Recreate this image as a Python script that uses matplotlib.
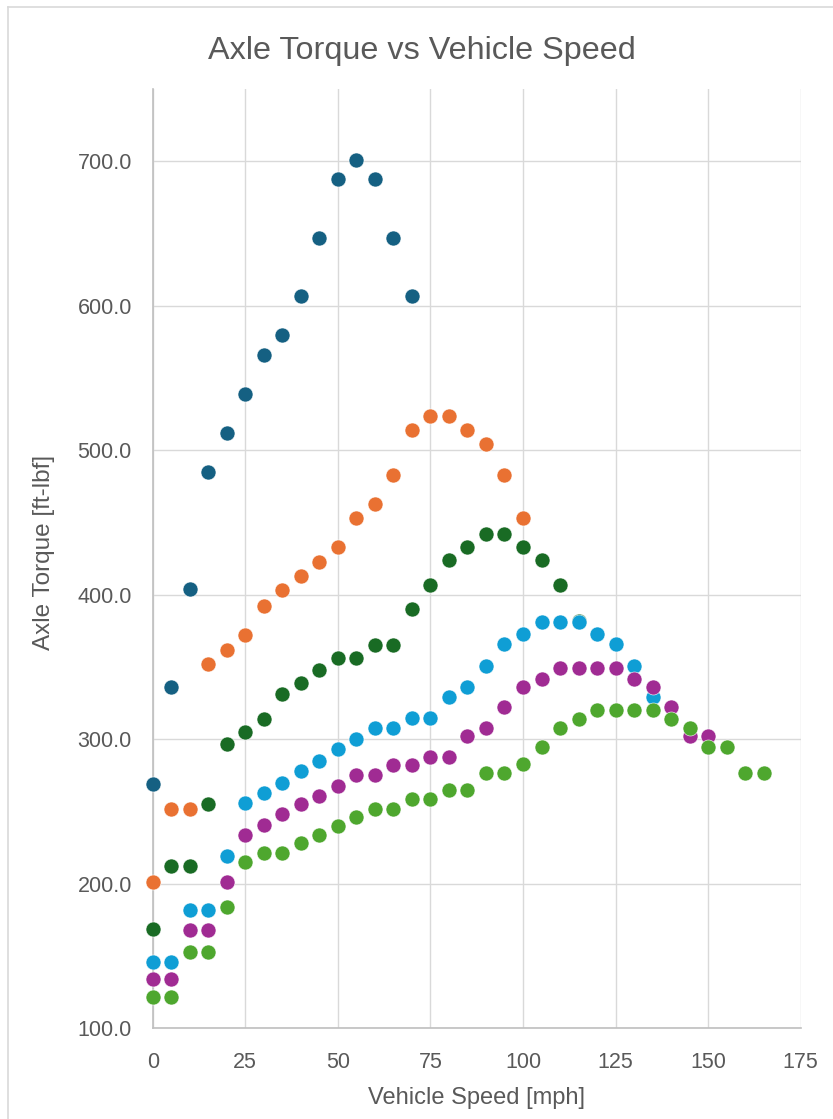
import matplotlib
matplotlib.use("Agg")
import matplotlib.pyplot as plt
from matplotlib.lines import Line2D

# ---- data ----
speed = [0, 5, 10, 15, 20, 25, 30, 35, 40, 45, 50, 55, 60, 65, 70, 75, 80, 85,
         90, 95, 100, 105, 110, 115, 120, 125, 130, 135, 140, 145, 150, 155, 160, 165]

torque_1 = [269, 336, 404, 485, 512, 539, 566, 580, 607, 647, 688, 701, 688, 647, 607]
torque_2 = [201, 252, 252, 352, 362, 372, 392, 403, 413, 423, 433, 453, 463, 483, 514,
            524, 524, 514, 504, 483, 453]
torque_3 = [169, 212, 212, 255, 297, 305, 314, 331, 339, 348, 356, 356, 365, 365, 390,
            407, 424, 433, 442, 442, 433, 424, 407, 382]
torque_4 = [146, 146, 182, 182, 219, 256, 263, 270, 278, 285, 293, 300, 308, 308, 315,
            315, 329, 336, 351, 366, 373, 381, 381, 381, 373, 366, 351, 329]
torque_5 = [134, 134, 168, 168, 201, 234, 241, 248, 255, 261, 268, 275, 275, 282, 282,
            288, 288, 302, 308, 322, 336, 342, 349, 349, 349, 349, 342, 336, 322, 302, 302]
torque_6 = [122, 122, 153, 153, 184, 215, 221, 221, 228, 234, 240, 246, 252, 252, 259,
            259, 265, 265, 277, 277, 283, 295, 308, 314, 320, 320, 320, 320, 314, 308,
            295, 295, 277, 277]

series = [torque_1, torque_2, torque_3, torque_4, torque_5, torque_6]
colors = ["#156082", "#E97132", "#196B24", "#0F9ED5", "#A02B93", "#4EA72E"]

x_ticks = [0, 25, 50, 75, 100, 125, 150, 175]
y_ticks = [100, 200, 300, 400, 500, 600, 700]

title = "Axle Torque vs Vehicle Speed"
x_label = "Vehicle Speed [mph]"
y_label = "Axle Torque [ft-lbf]"

# ---- figure ----
W, H = 833, 1119
fig = plt.figure(figsize=(W / 100, H / 100), dpi=100)
plt.rcParams['font.family'] = ['Liberation Sans', 'DejaVu Sans']
TXT = "#595959"

L, R, T, B = 152.7, 800.7, 89, 1028.3
ax = fig.add_axes([L / W, 1 - B / H, (R - L) / W, (B - T) / H])

for ys, c in zip(series, colors):
    ax.plot(speed[:len(ys)], ys, linestyle="none", marker="o", markersize=10.8,
            markerfacecolor=c, markeredgecolor="white", markeredgewidth=0.4,
            clip_on=False, zorder=3)

ax.set_xlim(0, 175)
ax.set_ylim(100, 750)
ax.set_xticks(x_ticks)
ax.set_yticks(y_ticks)
ax.set_xticklabels([str(v) for v in x_ticks])
ax.set_yticklabels([f"{v:.1f}" for v in y_ticks])
ax.tick_params(axis="both", length=0, labelsize=15.5, colors=TXT)
ax.tick_params(axis="x", pad=17)
ax.tick_params(axis="y", pad=15)

ax.grid(True, color="#D9D9D9", linewidth=1.0)
ax.set_axisbelow(True)
for s in ["top", "right"]:
    ax.spines[s].set_visible(False)
for s in ["left", "bottom"]:
    ax.spines[s].set_color("#BFBFBF")
    ax.spines[s].set_linewidth(1.2)
    ax.spines[s].set_zorder(2)

# chart-area border (left and top visible)
fig.add_artist(Line2D([7.5 / W, 7.5 / W], [0, 1 - 6.5 / H], transform=fig.transFigure,
                      color="#D9D9D9", linewidth=1.2))
fig.add_artist(Line2D([7.5 / W, 1], [1 - 6.5 / H, 1 - 6.5 / H], transform=fig.transFigure,
                      color="#D9D9D9", linewidth=1.2))

fig.text(422 / W, 1 - 51 / H, title, ha="center", va="center", fontsize=23.3, color=TXT)
fig.text(477 / W, 1 - 1098 / H, x_label, ha="center", va="center", fontsize=17, color=TXT)
fig.text(44 / W, 1 - 552 / H, y_label, ha="center", va="center", rotation=90,
         fontsize=17.5, color=TXT)

fig.savefig("out.png", dpi=100, facecolor="white")
